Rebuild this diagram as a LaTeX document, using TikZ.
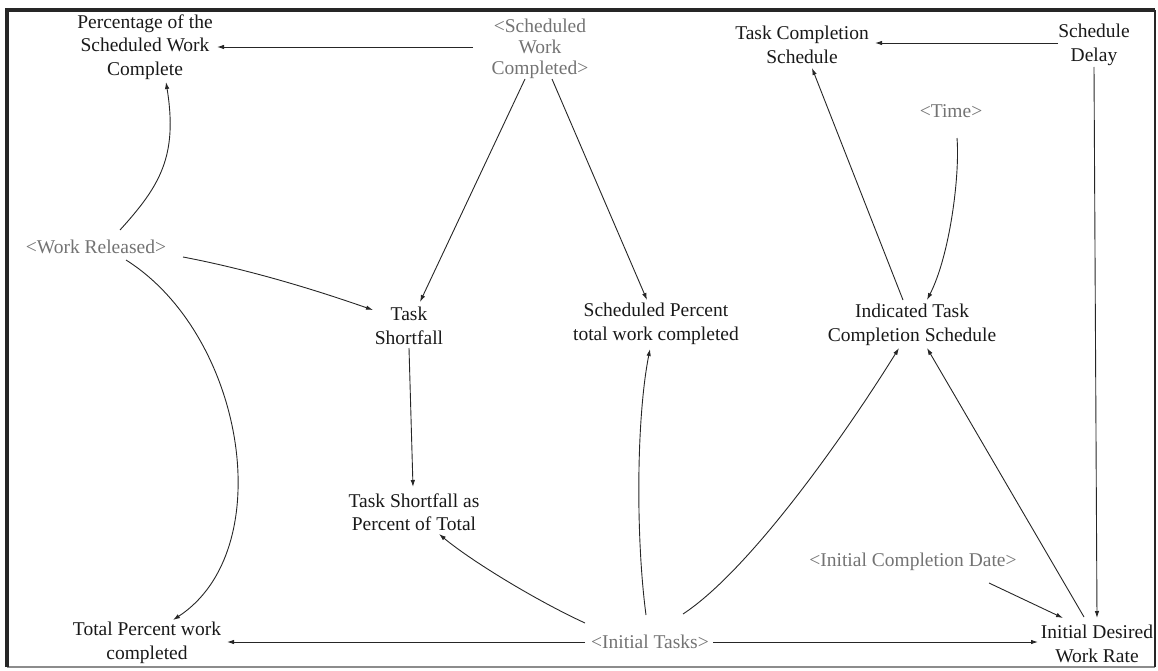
\documentclass[tikz,border=0pt]{standalone}
\usepackage{fontspec}
\setmainfont{Liberation Serif}
\usetikzlibrary{arrows.meta,calc}
\begin{document}
\begin{tikzpicture}[x=1bp,y=-1bp,
  vtext/.style={align=center,inner sep=0pt,text=black!90,
    font=\fontsize{19.5bp}{23.5bp}\selectfont},
  gtext/.style={vtext,text=black!55},
  link/.style={draw=black!85,line width=0.9bp,-{Latex[length=7bp,width=4.5bp]}},
]
\useasboundingbox (0,0) rectangle (1158,671);

% frame
\draw[black!45,line width=2bp] (7,667) -- (1155,667);
\draw[black!85,line width=2bp] (1155,10) -- (1155,667);
\draw[black!85,line width=3.5bp] (7,667) -- (7,10) -- (1155,10);

% variables
\node[vtext] (pswc) at (145,47) {Percentage of the\\Scheduled Work\\Complete};
\node[gtext,font=\fontsize{19.5bp}{21bp}\selectfont] (swc) at (540,49) {<Scheduled\\Work\\Completed>};
\node[vtext] (tcs) at (802,45) {Task Completion\\Schedule};
\node[vtext] (sd) at (1094,45) {Schedule\\Delay};
\node[gtext] (time) at (951,111) {<Time>};
\node[gtext] (wr) at (96,247) {<Work Released>};
\node[vtext] (ts) at (409,326) {Task\\Shortfall};
\node[vtext] (spt) at (656,324) {Scheduled Percent\\total work completed};
\node[vtext] (itcs) at (912,325) {Indicated Task\\Completion Schedule};
\node[vtext] (tspt) at (414,512) {Task Shortfall as\\Percent of Total};
\node[gtext] (icd) at (913,562) {<Initial Completion Date>};
\node[vtext] (tpwc) at (147,643) {Total Percent work\\completed};
\node[gtext] (it) at (650,642) {<Initial Tasks>};
\node[vtext] (idwr) at (1097,644) {Initial Desired\\Work Rate};

% straight links
\draw[link] ($(swc.center)+(-67,-2)$) -- ($(pswc.center)+(72,0)$);
\draw[link] ($(swc.center)+(-15,30)$) -- ($(ts.center)+(11,-24)$);
\draw[link] ($(swc.center)+(12,30)$) -- ($(spt.center)+(-9,-24)$);
\draw[link] ($(sd.center)+(-36,-2)$) -- ($(tcs.center)+(73,-2)$);
\draw[link] ($(sd.center)+(0,22)$) -- ($(idwr.center)+(0,-26)$);
\draw[link] ($(itcs.center)+(-9,-25)$) -- ($(tcs.center)+(10,23)$);
\draw[link] ($(ts.center)+(0,22)$) -- ($(tspt.center)+(-1,-25)$);
\draw[link] ($(idwr.center)+(-13,-27)$) -- ($(itcs.center)+(15,23)$);
\draw[link] ($(icd.center)+(76,21)$) -- ($(idwr.center)+(-34,-26)$);
\draw[link] ($(it.center)+(-65,0)$) -- ($(tpwc.center)+(80,-1)$);
\draw[link] ($(it.center)+(63,0)$) -- ($(idwr.center)+(-59,-2)$);

% curved links
\draw[link] ($(wr.center)+(24,-17)$) .. controls (160,186) and (178,156) .. ($(pswc.center)+(21,35)$);
\draw[link] ($(wr.center)+(87,10)$) .. controls (246,269) and (310,288) .. ($(ts.center)+(-36,-16)$);
\draw[link] ($(wr.center)+(30,13)$) .. controls (245,335) and (280,550) .. ($(tpwc.center)+(26,-23)$);
\draw[link] ($(time.center)+(6,27)$) .. controls (960,175) and (950,255) .. ($(itcs.center)+(15,-25)$);
\draw[link] ($(it.center)+(-65,-19)$) .. controls (535,600) and (470,560) .. ($(tspt.center)+(25,22)$);
\draw[link] ($(it.center)+(-4,-27)$) .. controls (636,540) and (636,420) .. ($(spt.center)+(-6,25)$);
\draw[link] ($(it.center)+(33,-28)$) .. controls (750,570) and (845,435) .. ($(itcs.center)+(-13,23)$);
\end{tikzpicture}
\end{document}
